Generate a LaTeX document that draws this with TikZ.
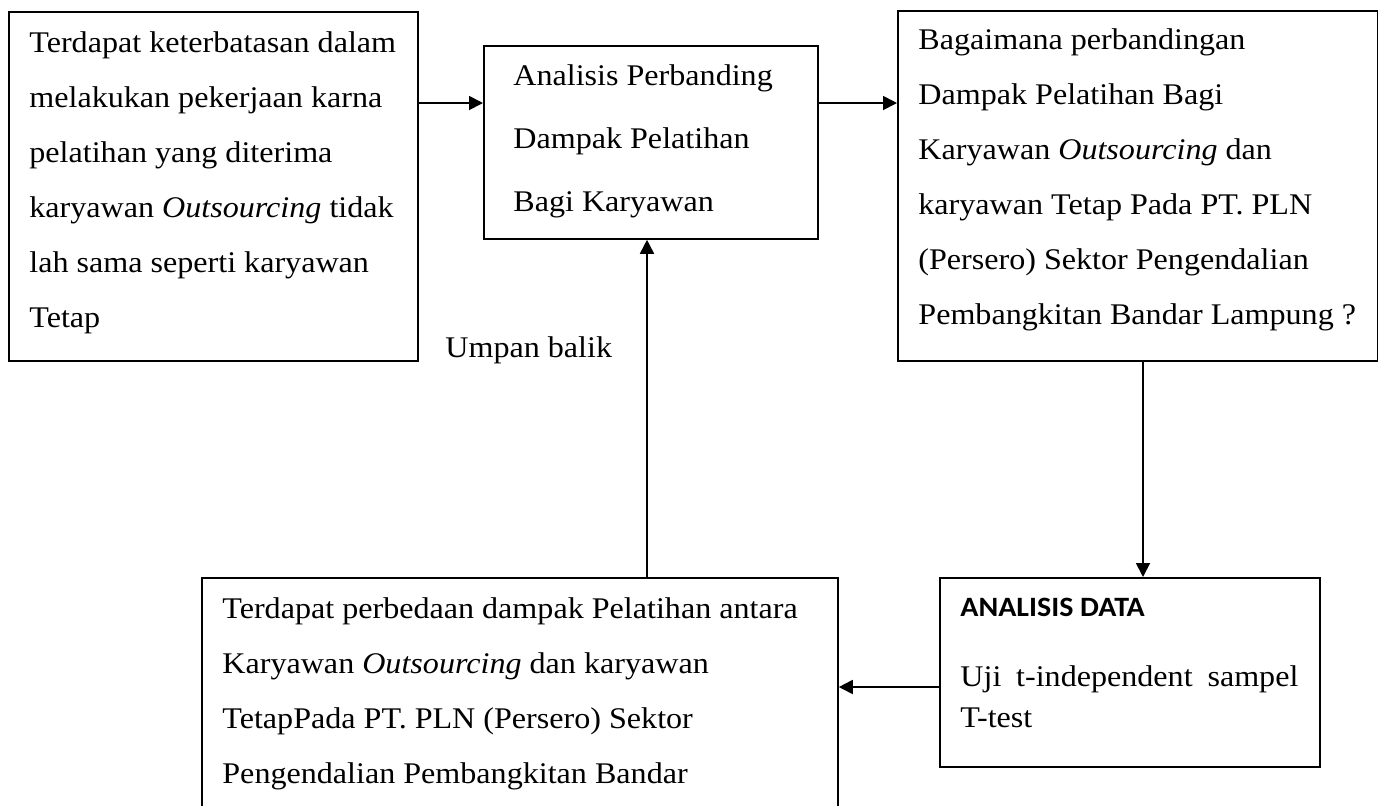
\documentclass[tikz,border=0pt]{standalone}
\usepackage{fontspec}
\setmainfont{Liberation Serif}[FakeStretch=1.07]
\newfontfamily\carlito{Carlito}[FakeStretch=1.07]
\usepackage{tikz}
\usetikzlibrary{arrows.meta}

\begin{document}
\begin{tikzpicture}[x=0.5pt,y=-0.5pt,
		box/.style={draw,line width=0.9pt,inner sep=0pt,anchor=north west},
		txt/.style={anchor=base west,align=left,inner sep=0pt,font=\fontsize{15pt}{27.5pt}\selectfont},
		arr/.style={line width=0.9pt,-{Triangle[length=7pt,width=7pt]}}]
		% Frame
		\useasboundingbox (0,0) rectangle (1378,805);
		\clip (0,0) rectangle (1378,805);
		
		% Boxes
		\node[box,minimum width=204.5pt,minimum height=174.5pt] (masalah) at (8,11) {};
		\node[box,minimum width=167pt,minimum height=96.5pt] (analisis) at (483,45) {};
		\node[box,minimum width=240pt,minimum height=175pt] (rumusan) at (897,10) {};
		\node[box,minimum width=190pt,minimum height=94.5pt] (data) at (939,577) {};
		\node[box,minimum width=318pt,minimum height=130pt] (hasil) at (201,577) {};
		
		% Texts (placed at the baseline of their last line)
		\node[txt] (masalaht) at (29,327) {Terdapat keterbatasan dalam\\ melakukan pekerjaan karna\\ pelatihan yang diterima\\ karyawan \textit{Outsourcing} tidak\\ lah sama seperti karyawan\\ Tetap};
		\node[txt,font=\fontsize{15pt}{31.5pt}\selectfont] (analisist) at (513,211) {Analisis Perbanding\\ Dampak Pelatihan\\ Bagi Karyawan};
		\node[txt] (rumusant) at (918,324) {Bagaimana perbandingan\\ Dampak Pelatihan Bagi\\ Karyawan \textit{Outsourcing} dan\\ karyawan Tetap Pada PT. PLN\\ (Persero) Sektor Pengendalian\\ Pembangkitan Bandar Lampung ?};
		\node[txt,font=\fontsize{15pt}{20.5pt}\selectfont] (datat) at (960,727) {{\carlito\bfseries\fontsize{14pt}{16pt}\selectfont ANALISIS DATA}\\[14.5pt] \makebox[169pt][s]{Uji t-independent sampel}\\ T-test};
		\node[txt] (hasilt) at (222,783) {Terdapat perbedaan dampak Pelatihan antara\\ Karyawan \textit{Outsourcing} dan karyawan\\ TetapPada PT. PLN (Persero) Sektor\\ Pengendalian Pembangkitan Bandar};
		\node[txt] (umpan) at (445,357) {Umpan balik};
		
		% Arrows
		\draw[arr] ([yshift=-46pt]masalah.north east) coordinate (a1) -- (analisis.west |- a1);
		\draw[arr] ([yshift=-29pt]analisis.north east) coordinate (a2) -- (rumusan.west |- a2);
		\draw[arr] ([xshift=123pt]rumusan.south west) coordinate (a3) -- (data.north -| a3);
		\draw[arr] ([yshift=-55pt]data.north west) coordinate (a4) -- (hasil.east |- a4);
		\draw[arr] ([xshift=223pt]hasil.north west) coordinate (a5) -- (analisis.south -| a5);
		
	\end{tikzpicture}
\end{document}
